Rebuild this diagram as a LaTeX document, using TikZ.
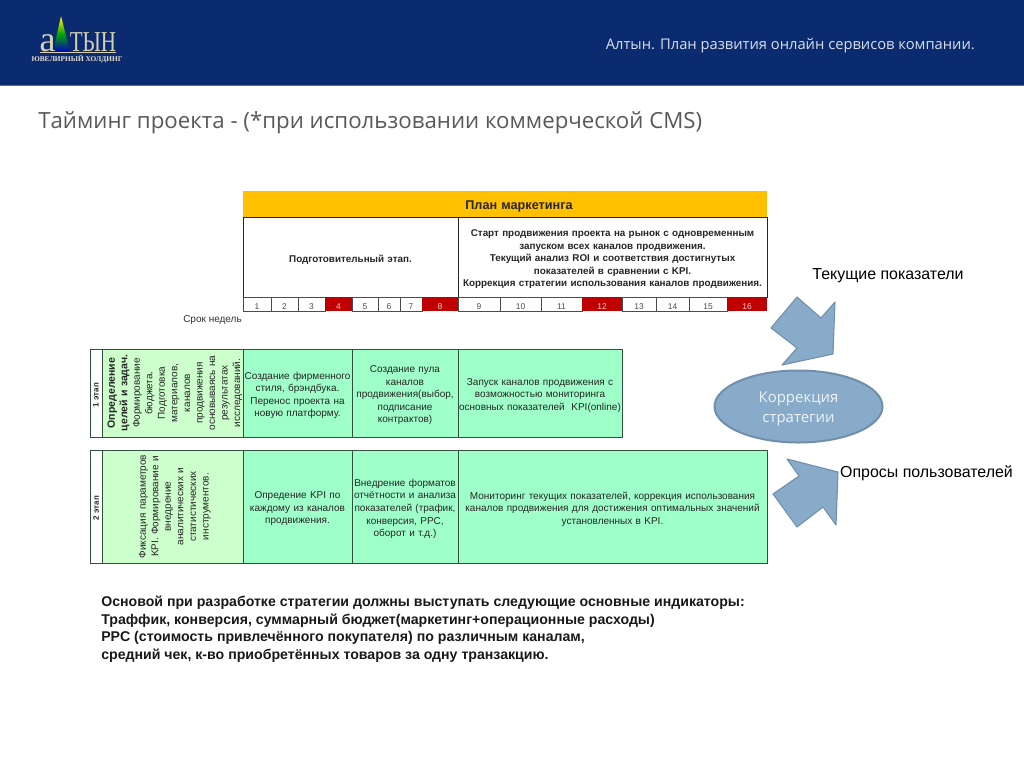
\documentclass[tikz,border=0pt]{standalone}
\usepackage{fontspec}
\setmainfont{Liberation Sans}
\newfontfamily\headfont{Open Sans}
\newfontfamily\logofont{Liberation Serif}
\usetikzlibrary{shapes.geometric}
\definecolor{navy}{HTML}{0B2B70}
\definecolor{gold}{HTML}{FFC000}
\definecolor{mint}{HTML}{9FFFC9}
\definecolor{pale}{HTML}{CCFFCC}
\definecolor{wred}{HTML}{C00000}
\definecolor{steel}{HTML}{88ABC9}
\definecolor{steeld}{HTML}{6F8FAB}
\definecolor{greyt}{HTML}{595959}
\definecolor{line}{HTML}{33503F}
\definecolor{logoc}{HTML}{D8D2B4}
\pgfdeclareverticalshading{rainbowlogo}{100bp}{
  color(0bp)=(violet!70!black); color(25bp)=(blue!75!black); color(50bp)=(green!65!black);
  color(70bp)=(yellow!90!black); color(85bp)=(orange); color(100bp)=(red!60!black)}
\tikzset{
  cellbase/.style={inner sep=0pt,align=center,font=\fontsize{7.5}{9.4}\selectfont,text=black!85},
  gridcell/.style={cellbase,draw=line,line width=0.6pt},
  whitecell/.style={cellbase,draw=black!85,line width=0.7pt,fill=white,font=\fontsize{7.4}{9.4}\selectfont\bfseries},
  mintcell/.style={gridcell,fill=mint},
  palecell/.style={gridcell,fill=pale},
  plaincell/.style={gridcell,fill=white},
  week/.style={cellbase,draw=black!70,line width=0.4pt,font=\fontsize{6.3}{7}\selectfont,text=black!70,fill=white},
  redweek/.style={cellbase,fill=wred,font=\fontsize{6.3}{7}\selectfont,text=red!20!white},
  arrowshape/.style={fill=steel,draw=steeld,line width=0.8pt,line join=round},
  side/.style={inner sep=0pt,font=\fontsize{11.95}{14}\selectfont,text=black},
  stagelabel/.style={inner sep=0pt,rotate=90,text=black!85,font=\fontsize{6}{7}\selectfont\bfseries},
}
% \boxcell{name}{x1}{y1}{x2}{y2}{style}{rotation}{text}
\newcommand{\boxcell}[8]{%
  \pgfmathsetmacro{\bw}{(#4-#2)*0.75}%
  \pgfmathsetmacro{\bh}{(#5-#3)*0.75}%
  \pgfmathsetmacro{\bx}{(#2+#4)/2}%
  \pgfmathsetmacro{\by}{(#3+#5)/2}%
  \pgfmathsetmacro{\twid}{#7==0 ? \bw-0.5 : \bh-1}%
  \pgfmathsetmacro{\tx}{#7==0 ? \bx : \bx+2.3}%
  \pgfmathsetmacro{\ty}{#7==0 ? \by+2.4 : \by}%
  \node[#6,minimum width=\bw pt,minimum height=\bh pt] (#1) at (\bx,\by) {};
  \node[#6,draw=none,fill=none,rotate=#7,text width=\twid pt] (#1t) at (\tx,\ty) {#8};
}
\begin{document}
\begin{tikzpicture}[x=0.75pt,y=-0.75pt]
\useasboundingbox (0,0) rectangle (1024,768);
% header
\fill[white] (0,0) rectangle (1024,768);
\fill[navy] (0,0) rectangle (1024,85);
\fill[navy!70!white] (0,85) rectangle (1024,86);
% logo
\path[shading=rainbowlogo] (61,16) -- (53,52) -- (70,52) -- cycle;
\draw[logoc,line width=0.5pt] (40,52.5) -- (116,52.5);
\node[anchor=base,inner sep=0pt,text=logoc,font=\logofont\fontsize{27}{29}\selectfont] (logoa) at (47.5,51.5) {а};
\node[anchor=base,inner sep=0pt,text=logoc,font=\logofont\fontsize{21.6}{22}\selectfont] (logob) at (93,51.5) {\scalebox{0.73}[1]{ТЫН}};
\node[inner sep=0pt,text=logoc!70!white,font=\logofont\fontsize{5.5}{6}\selectfont\bfseries] (logoc) at (77,59.5) {ЮВЕЛИРНЫЙ ХОЛДИНГ};
\node[anchor=east,inner sep=0pt,text=white!85!navy,font=\headfont\fontsize{11.05}{13}\selectfont] (head) at (975,46) {Алтын. План развития онлайн сервисов компании.};
\node[anchor=west,inner sep=0pt,text=greyt,font=\headfont\fontsize{16.7}{19}\selectfont] (title) at (38,122.5) {Тайминг проекта - (*при использовании коммерческой CMS)};
% plan table
\boxcell{goldl}{243}{191}{271}{217}{cellbase,fill=gold}{0}{}
\boxcell{goldr}{271}{191}{767}{217}{cellbase,fill=gold,font=\fontsize{9.5}{10}\selectfont\bfseries}{0}{План маркетинга}
\boxcell{prep}{243}{217}{458}{297}{whitecell}{0}{Подготовительный этап.}
\boxcell{start}{458}{217}{767}{297}{whitecell}{0}{Старт продвижения проекта на рынок с одновременным\\запуском всех каналов продвижения.\\Текущий анализ ROI и соответствия достигнутых\\показателей в сравнении с KPI.\\Коррекция стратегии использования каналов продвижения.}
\boxcell{w1}{243}{297}{271}{311}{week}{0}{1}
\boxcell{w2}{271}{297}{298}{311}{week}{0}{2}
\boxcell{w3}{298}{297}{325}{311}{week}{0}{3}
\boxcell{w4}{325}{297}{352}{311}{redweek}{0}{4}
\boxcell{w5}{352}{297}{378}{311}{week}{0}{5}
\boxcell{w6}{378}{297}{400}{311}{week}{0}{6}
\boxcell{w7}{400}{297}{422}{311}{week}{0}{7}
\boxcell{w8}{422}{297}{458}{311}{redweek}{0}{8}
\boxcell{w9}{458}{297}{500}{311}{week}{0}{9}
\boxcell{w10}{500}{297}{541}{311}{week}{0}{10}
\boxcell{w11}{541}{297}{582}{311}{week}{0}{11}
\boxcell{w12}{582}{297}{622}{311}{redweek}{0}{12}
\boxcell{w13}{622}{297}{656}{311}{week}{0}{13}
\boxcell{w14}{656}{297}{689}{311}{week}{0}{14}
\boxcell{w15}{689}{297}{727}{311}{week}{0}{15}
\boxcell{w16}{727}{297}{767}{311}{redweek}{0}{16}
\node[anchor=east,inner sep=0pt,text=black!80,font=\fontsize{7.5}{9}\selectfont] (term) at (242,320.5) {Срок недель};
% stage 1
\boxcell{s1a}{90}{349}{102}{437}{plaincell}{90}{}
\node[stagelabel] (s1label) at (96,395) {1 этап};
\boxcell{s1b}{102}{349}{243}{437}{palecell}{90}{{\bfseries\fontsize{7.9}{9.4}\selectfont Определение\\целей и задач.} Формирование\\бюджета.\\Подготовка\\материалов,\\каналов\\продвижения\\основываясь на\\результатах\\исследований.}
\boxcell{s1c}{243}{349}{352}{437}{mintcell}{0}{Создание фирменного\\стиля, брэндбука.\\Перенос проекта на\\новую платформу.}
\boxcell{s1d}{352}{349}{458}{437}{mintcell}{0}{Создание пула\\каналов\\продвижения(выбор,\\подписание\\контрактов)}
\boxcell{s1e}{458}{349}{622}{437}{mintcell}{0}{Запуск каналов продвижения с\\возможностью мониторинга\\основных показателей \ KPI(online)}
% stage 2
\boxcell{s2a}{90}{450}{102}{563}{plaincell}{90}{}
\node[stagelabel] (s2label) at (96,508) {2 этап};
\boxcell{s2b}{102}{450}{243}{563}{palecell}{90}{Фиксация параметров\\KPI. Формирование и\\внедрение\\аналитических и\\статистических\\инструментов.}
\boxcell{s2c}{243}{450}{352}{563}{mintcell}{0}{Опредение KPI по\\каждому из каналов\\продвижения.}
\boxcell{s2d}{352}{450}{458}{563}{mintcell}{0}{Внедрение форматов\\отчётности и анализа\\показателей (трафик,\\конверсия, PPC,\\оборот и т.д.)}
\boxcell{s2e}{458}{450}{767}{563}{mintcell}{0}{Мониторинг текущих показателей, коррекция использования\\каналов продвижения для достижения оптимальных значений\\установленных в KPI.}
% right side
\draw[arrowshape] (797,297) -- (821,318) -- (835,302) -- (833,354) -- (782,365) -- (797,348) -- (771,328) -- cycle;
\draw[arrowshape] (787,459) -- (838,472) -- (836,525) -- (823,507) -- (797,527) -- (773,494) -- (799,476) -- cycle;
\node[ellipse,fill=steel,draw=steeld,line width=1.5pt,minimum width=126pt,minimum height=54pt,inner sep=0pt] (corr) at (798.5,406.5) {};
\node[inner sep=0pt,align=center,text=white!85!steel,font=\headfont\fontsize{11.2}{15.5}\selectfont] (corrt) at (798.5,409) {Коррекция\\стратегии};
\node[side] (cur) at (888,275.5) {Текущие показатели};
\node[side] (poll) at (926.5,473.5) {Опросы пользователей};
% bottom text
\node[anchor=north west,inner sep=0pt,align=left,text=black!90,font=\fontsize{10.6}{13.3}\selectfont\bfseries] (basis) at (101,595.5) {Основой при разработке стратегии должны выступать следующие основные индикаторы:\\Траффик, конверсия, суммарный бюджет(маркетинг+операционные расходы)\\PPC (стоимость привлечённого покупателя) по различным каналам,\\средний чек, к-во приобретённых товаров за одну транзакцию.};
\end{tikzpicture}
\end{document}
